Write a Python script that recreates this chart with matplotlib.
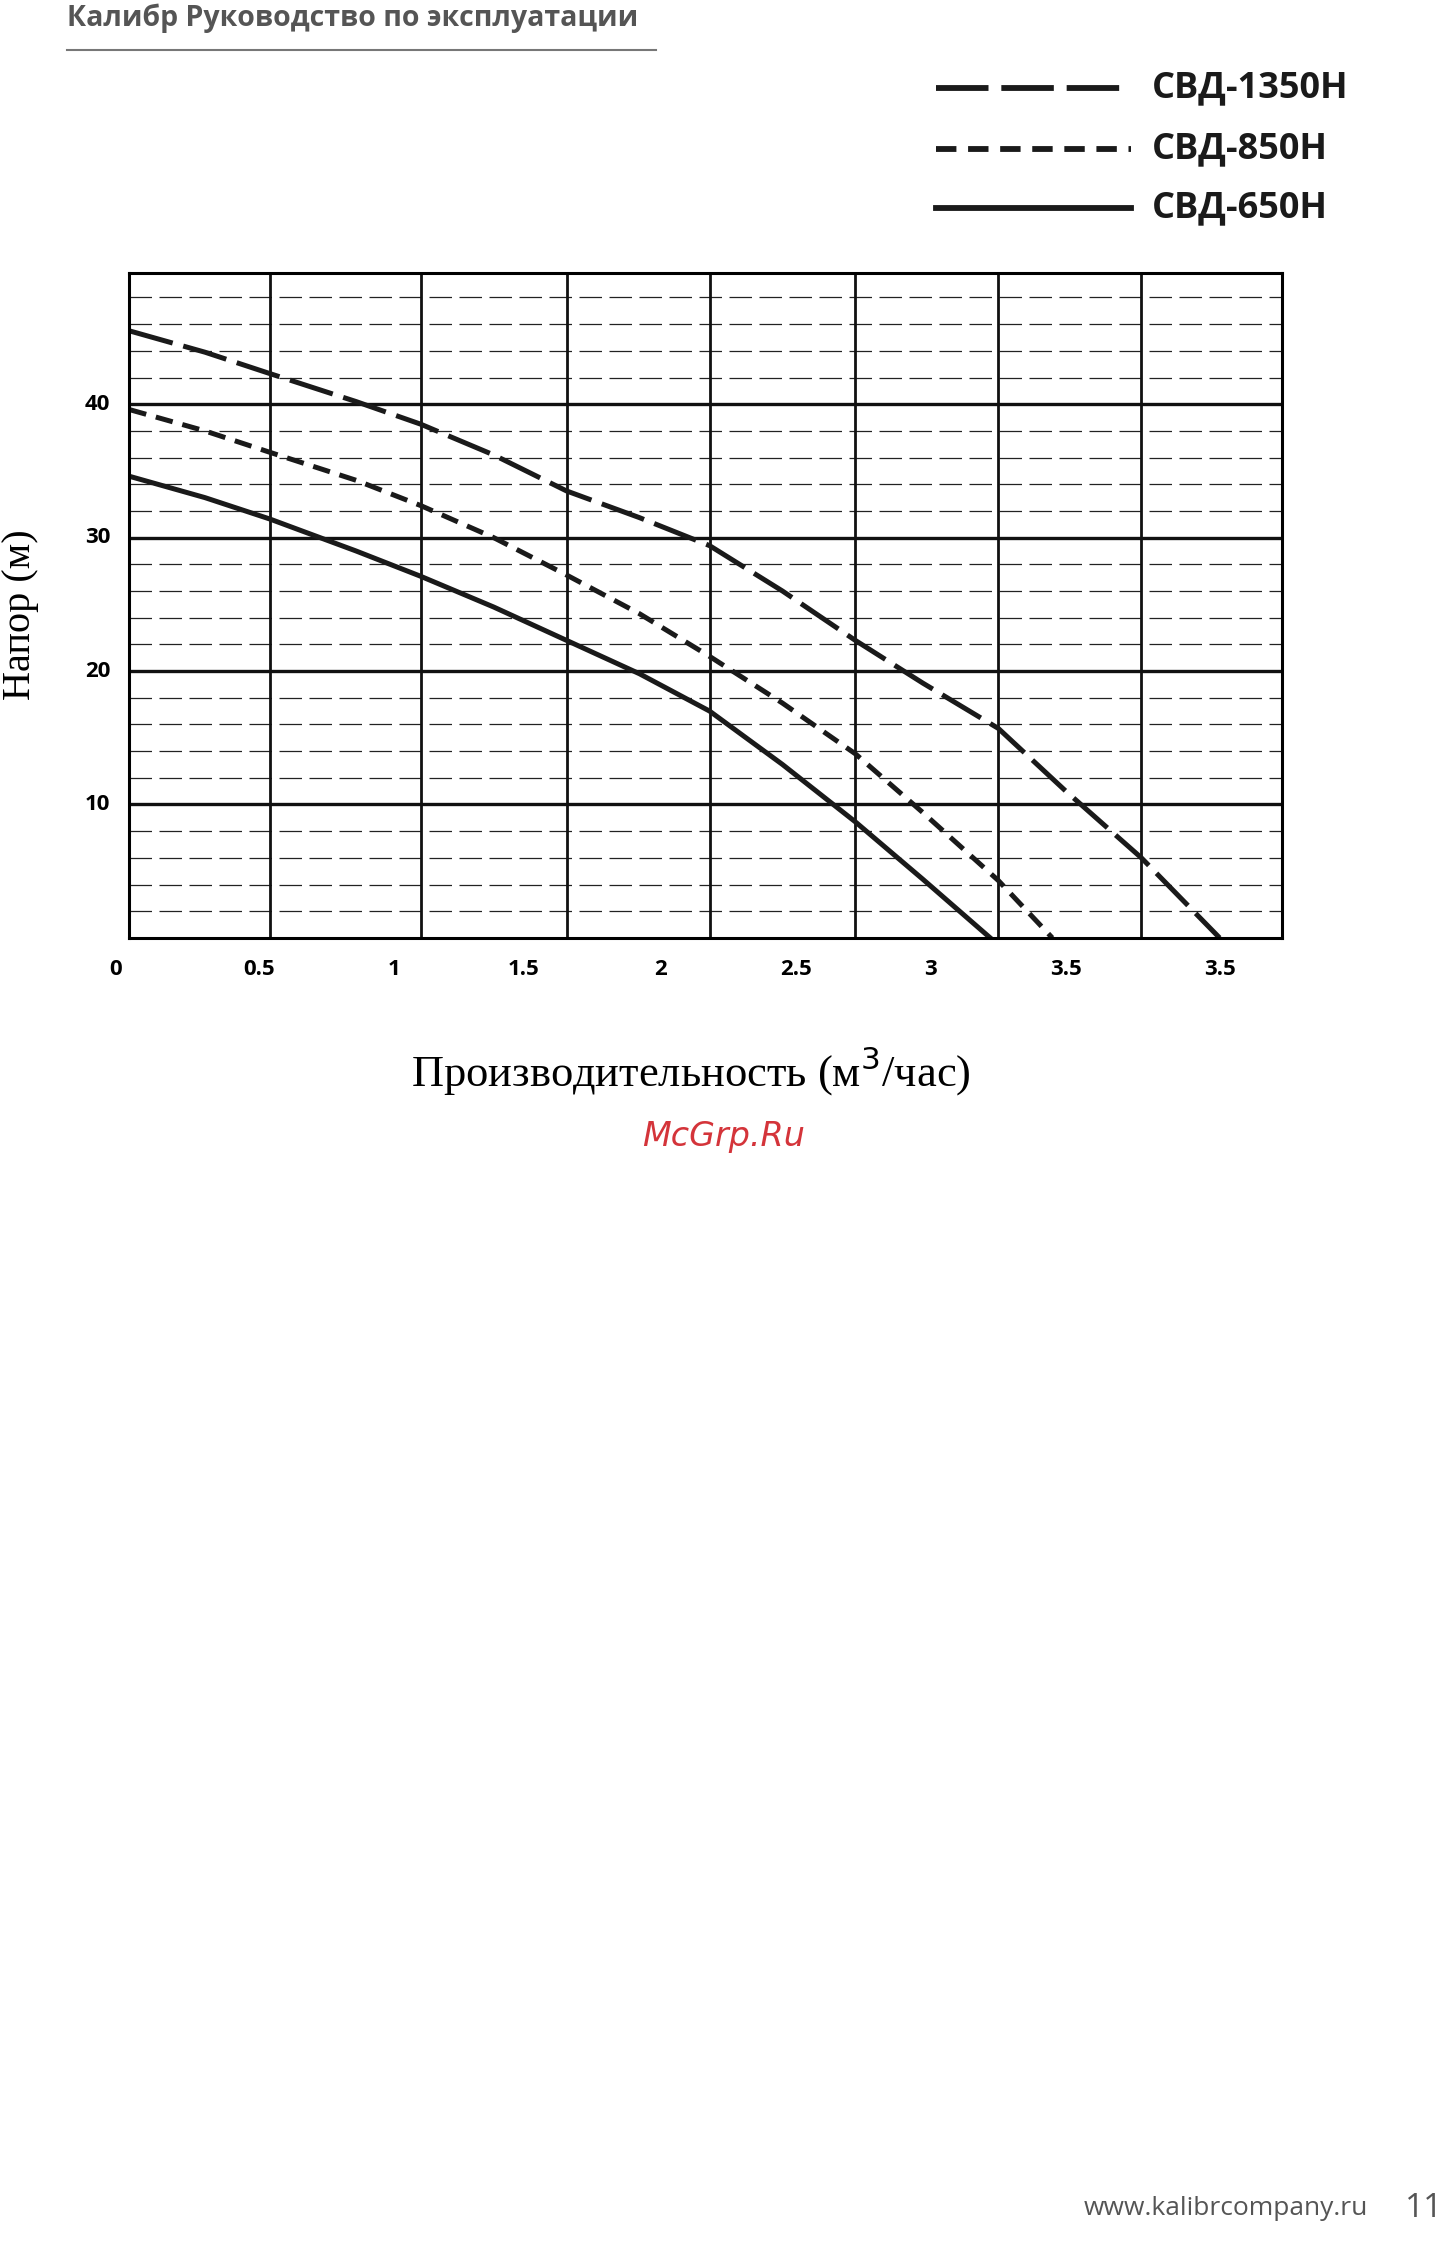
import matplotlib
matplotlib.use("Agg")
import matplotlib.pyplot as plt
from matplotlib.lines import Line2D

# data (flow in m3/h, head in m)
x1350 = [0, 0.28, 0.52, 0.84, 1.08, 1.35, 1.62, 1.89, 2.15, 2.42, 2.69, 2.94, 3.22, 3.47, 3.75, 4.04]
y1350 = [45.5, 43.9, 42.3, 40.2, 38.5, 36.2, 33.5, 31.5, 29.4, 26.0, 22.3, 19.1, 15.7, 11.0, 6.0, 0]
x850 = [0, 0.28, 0.52, 0.84, 1.08, 1.35, 1.62, 1.89, 2.15, 2.42, 2.69, 2.94, 3.22, 3.42]
y850 = [39.6, 38.0, 36.4, 34.3, 32.4, 30.0, 27.2, 24.3, 21.1, 17.6, 13.8, 9.4, 4.3, 0]
x650 = [0, 0.28, 0.52, 0.84, 1.08, 1.35, 1.62, 1.89, 2.15, 2.42, 2.69, 2.94, 3.19]
y650 = [34.6, 33.0, 31.4, 29.0, 27.1, 24.8, 22.3, 19.8, 17.0, 13.0, 8.7, 4.4, 0]
xgrid = [0.52, 1.08, 1.62, 2.15, 2.69, 3.22, 3.75]
xtick_pos = [-0.05, 0.48, 0.98, 1.46, 1.97, 2.47, 2.97, 3.47, 4.04]
xtick_lab = ["0", "0.5", "1", "1.5", "2", "2.5", "3", "3.5", "3.5"]
ymajor = [10, 20, 30, 40]
yminor = [v for v in range(2, 50, 2) if v % 10 != 0]

fig = plt.figure(figsize=(14.55, 22.6), dpi=100)
ax = fig.add_axes([0.0889, 0.585, 0.792, 0.294])
ax.set_xlim(0, 4.27)
ax.set_ylim(0, 49.8)
for s in ax.spines.values():
    s.set_linewidth(2.2)
ax.set_xticks([]); ax.set_yticks([])
for v in yminor:
    ax.axhline(v, color="#222", lw=0.9, dashes=(18, 6))
for v in ymajor:
    ax.axhline(v, color="#111", lw=2.4)
for v in xgrid:
    ax.axvline(v, color="#111", lw=2.0)

ax.plot(x1350, y1350, color="#1a1a1a", lw=3.6, dashes=(9, 2.2), solid_capstyle="butt")
ax.plot(x850, y850, color="#1a1a1a", lw=3.6, dashes=(3.5, 2))
ax.plot(x650, y650, color="#1a1a1a", lw=3.6)

for p, l in zip(xtick_pos, xtick_lab):
    ax.text(p, -1.6, l, ha="center", va="top", fontsize=16, fontweight="bold", family="Open Sans")
for v in ymajor:
    ax.text(-0.07, v, str(v), ha="right", va="center", fontsize=16, fontweight="bold", family="Open Sans")

fig.text(0.014, 0.728, "Напор (м)", rotation=90, ha="center", va="center", fontsize=29, family="Liberation Serif")
fig.text(0.475, 0.526, "Производительность (м$^3$/час)", ha="center", va="center", fontsize=32, family="Liberation Serif")
fig.text(0.497, 0.497, "McGrp.Ru", ha="center", va="center", fontsize=24, style="italic", color="#d4343a", family="DejaVu Sans")

fig.text(0.046, 0.992, "Калибр Руководство по эксплуатации", ha="left", va="center", fontsize=20.5, fontweight="bold", color="#555", family="Open Sans")
fig.add_artist(Line2D([0.046, 0.451], [0.978, 0.978], color="#777", lw=1.5))

legs = [("СВД-1350Н", (9, 2.2), 0.961), ("СВД-850Н", (3.5, 2), 0.934), ("СВД-650Н", None, 0.908)]
for lab, d, yy in legs:
    ln = Line2D([0.643, 0.777], [yy, yy], color="#1a1a1a", lw=4.2)
    if d:
        ln.set_dashes(d)
    fig.add_artist(ln)
    fig.text(0.792, yy, lab, ha="left", va="center", fontsize=26, fontweight="bold", family="Open Sans", color="#1a1a1a")

fig.text(0.94, 0.023, "www.kalibrcompany.ru", ha="right", va="center", fontsize=19, color="#555", family="Open Sans")
fig.text(0.992, 0.023, "11", ha="right", va="center", fontsize=24, color="#555", family="Open Sans")
fig.savefig("out.png", dpi=100, facecolor="white")
